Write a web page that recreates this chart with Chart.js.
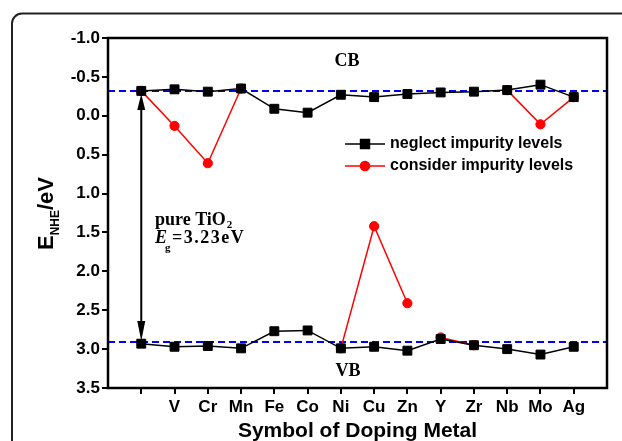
<!DOCTYPE html>
<html lang="en">
<head>
    <meta charset="UTF-8">
    <title>Band edges of doped TiO2</title>
    <script src="https://cdn.jsdelivr.net/npm/chart.js"></script>
    <style>
        body, html { margin: 0; padding: 0; background: #fff; overflow: hidden; }
        #chart { display: block; }
    </style>
</head>
<body>
    <canvas id="chart" width="622" height="441"></canvas>

    <script>
        // doping metals (first slot = pure TiO2, no label)
        var metals = ['', 'V', 'Cr', 'Mn', 'Fe', 'Co', 'Ni', 'Cu', 'Zn', 'Y', 'Zr', 'Nb', 'Mo', 'Ag'];

        // band edges when impurity levels are neglected (eV vs NHE)
        var cbNeglect = [-0.32, -0.34, -0.31, -0.35, -0.09, -0.04, -0.27, -0.24, -0.28, -0.30, -0.31, -0.33, -0.40, -0.24];
        var vbNeglect = [2.93, 2.97, 2.96, 2.99, 2.77, 2.76, 2.99, 2.97, 3.02, 2.87, 2.95, 3.00, 3.07, 2.97];

        // band edges when impurity levels are considered
        var cbConsider = [-0.32, 0.13, 0.61, -0.35, null, null, null, null, null, null, null, -0.33, 0.11, -0.24];
        var vbConsiderNiZn = [null, null, null, null, null, null, 2.99, 1.42, 2.41, null, null, null, null, null];
        var vbConsiderYZr = [null, null, null, null, null, null, null, null, null, 2.85, 2.95, null, null, null];

        // pure TiO2 band edges
        var cbPure = -0.32;
        var vbPure = 2.91;

        var yMin = -1.0, yMax = 3.5, yStep = 0.5;

        var SANS = '"Liberation Sans", Arial, sans-serif';
        var SERIF = '"Liberation Serif", "Times New Roman", serif';

        function pts(values) {
            return values.map(function (v, i) { return { x: i, y: v }; });
        }

        function levelLine(v) {
            return [{ x: -1, y: v }, { x: metals.length, y: v }];
        }

        var black = {
            borderColor: '#000', backgroundColor: '#000', borderWidth: 1.5,
            pointStyle: 'rect', pointRadius: 6.3, pointBorderWidth: 1
        };
        var red = {
            borderColor: '#ff0000', backgroundColor: '#ff0000', borderWidth: 1.5,
            pointStyle: 'circle', pointRadius: 4.6, pointBorderWidth: 1
        };
        var blue = {
            borderColor: '#0000ff', borderWidth: 2, borderDash: [7, 4], pointRadius: 0
        };

        // frame, annotations, legend and axis titles
        var decor = {
            id: 'decor',
            beforeDraw: function (chart) {
                var ctx = chart.ctx;
                ctx.save();
                ctx.fillStyle = '#fff';
                ctx.fillRect(0, 0, chart.width, chart.height);
                // rounded outer frame
                ctx.strokeStyle = '#222';
                ctx.lineWidth = 2;
                ctx.beginPath();
                ctx.moveTo(12, chart.height + 5);
                ctx.lineTo(12, 24);
                ctx.arcTo(12, 13.5, 22, 13.5, 10);
                ctx.lineTo(chart.width + 5, 13.5);
                ctx.stroke();
                ctx.restore();
            },
            afterDraw: function (chart) {
                var ctx = chart.ctx, a = chart.chartArea;
                var xs = chart.scales.x, ys = chart.scales.y;
                ctx.save();

                // plot box
                ctx.strokeStyle = '#000';
                ctx.lineWidth = 2.5;
                ctx.strokeRect(a.left, a.top, a.right - a.left, a.bottom - a.top);

                // band gap arrow for pure TiO2
                var ax = xs.getPixelForValue(0);
                var top = ys.getPixelForValue(cbPure) + 3;
                var bot = ys.getPixelForValue(vbPure) - 1;
                ctx.lineWidth = 2;
                ctx.beginPath();
                ctx.moveTo(ax, top + 10);
                ctx.lineTo(ax, bot - 10);
                ctx.stroke();
                ctx.fillStyle = '#000';
                ctx.beginPath();
                ctx.moveTo(ax, top); ctx.lineTo(ax - 4, top + 16); ctx.lineTo(ax + 4, top + 16);
                ctx.closePath(); ctx.fill();
                ctx.beginPath();
                ctx.moveTo(ax, bot); ctx.lineTo(ax - 4, bot - 20); ctx.lineTo(ax + 4, bot - 20);
                ctx.closePath(); ctx.fill();

                // CB / VB labels
                ctx.font = 'bold 18px ' + SERIF;
                ctx.textAlign = 'center';
                ctx.textBaseline = 'alphabetic';
                ctx.fillText('CB', 347, 66);
                ctx.fillText('VB', 348, 376);

                // pure TiO2, Eg
                ctx.textAlign = 'left';
                ctx.font = 'bold 18px ' + SERIF;
                ctx.fillText('pure TiO', 155, 225);
                var w = ctx.measureText('pure TiO').width;
                ctx.font = 'bold 11px ' + SERIF;
                ctx.fillText('2', 155 + w + 1, 228);
                ctx.font = 'italic bold 18px ' + SERIF;
                ctx.fillText('E', 155, 243);
                ctx.font = 'bold 11px ' + SERIF;
                ctx.fillText('g', 165, 251);
                ctx.font = 'bold 18px ' + SERIF;
                ctx.letterSpacing = '1.5px';
                ctx.fillText('=3.23eV', 172, 243);
                ctx.letterSpacing = '0px';

                // legend
                var items = [
                    { text: 'neglect impurity levels', style: black, y: 144 },
                    { text: 'consider impurity levels', style: red, y: 166 }
                ];
                items.forEach(function (it) {
                    ctx.strokeStyle = it.style.borderColor;
                    ctx.fillStyle = it.style.backgroundColor;
                    ctx.lineWidth = it.style.borderWidth;
                    ctx.beginPath();
                    ctx.moveTo(345, it.y);
                    ctx.lineTo(385, it.y);
                    ctx.stroke();
                    Chart.helpers.drawPoint(ctx, {
                        pointStyle: it.style.pointStyle,
                        radius: it.style.pointRadius,
                        borderWidth: it.style.pointBorderWidth,
                        rotation: 0
                    }, 365, it.y);
                    ctx.fillStyle = '#000';
                    ctx.font = 'bold 16px ' + SANS;
                    ctx.textBaseline = 'middle';
                    ctx.fillText(it.text, 390, it.y);
                });

                // x title
                ctx.textBaseline = 'alphabetic';
                ctx.textAlign = 'center';
                ctx.font = 'bold 21px ' + SANS;
                ctx.fillText('Symbol of Doping Metal', (a.left + a.right) / 2, 437);

                // y title: E_NHE/eV
                ctx.translate(53, 250);
                ctx.rotate(-Math.PI / 2);
                ctx.textAlign = 'left';
                ctx.font = 'bold 22px ' + SANS;
                ctx.fillText('E', 0, 0);
                var x = ctx.measureText('E').width;
                ctx.font = 'bold 12px ' + SANS;
                ctx.fillText('NHE', x, 6);
                x += ctx.measureText('NHE').width;
                ctx.font = 'bold 22px ' + SANS;
                ctx.fillText('/eV', x, 0);

                ctx.restore();
            }
        };

        new Chart(document.getElementById('chart'), {
            type: 'line',
            data: {
                datasets: [
                    Object.assign({ label: 'neglect CB', data: pts(cbNeglect) }, black),
                    Object.assign({ label: 'neglect VB', data: pts(vbNeglect) }, black),
                    Object.assign({ label: 'consider CB', data: pts(cbConsider) }, red),
                    Object.assign({ label: 'consider VB Ni-Zn', data: pts(vbConsiderNiZn) }, red),
                    Object.assign({ label: 'consider VB Y-Zr', data: pts(vbConsiderYZr) }, red),
                    Object.assign({ label: 'CB pure', data: levelLine(cbPure) }, blue),
                    Object.assign({ label: 'VB pure', data: levelLine(vbPure) }, blue)
                ]
            },
            options: {
                responsive: false,
                animation: false,
                events: [],
                layout: { padding: { top: 38, right: 15, left: 0, bottom: 0 } },
                plugins: { legend: { display: false }, tooltip: { enabled: false } },
                scales: {
                    x: {
                        type: 'linear',
                        min: -1,
                        max: metals.length,
                        afterBuildTicks: function (s) {
                            s.ticks = s.ticks.filter(function (t) { return t.value >= 0 && t.value < metals.length; });
                        },
                        afterFit: function (s) { s.height = 53; },
                        border: { display: false },
                        grid: { drawOnChartArea: false, drawTicks: true, tickLength: 6, color: '#000', lineWidth: 2 },
                        ticks: {
                            stepSize: 1,
                            autoSkip: false,
                            maxRotation: 0,
                            padding: 3,
                            color: '#000',
                            font: { family: SANS, size: 17, weight: 'bold' },
                            callback: function (v) { return metals[v] !== undefined ? metals[v] : ''; }
                        }
                    },
                    y: {
                        reverse: true,
                        min: yMin,
                        max: yMax,
                        afterFit: function (s) { s.width = 108; },
                        border: { display: false },
                        grid: { drawOnChartArea: false, drawTicks: true, tickLength: 6, color: '#000', lineWidth: 2 },
                        ticks: {
                            stepSize: yStep,
                            padding: 2,
                            color: '#000',
                            font: { family: SANS, size: 17, weight: 'bold' },
                            callback: function (v) { return v.toFixed(1); }
                        }
                    }
                }
            },
            plugins: [decor]
        });
    </script>
</body>
</html>
